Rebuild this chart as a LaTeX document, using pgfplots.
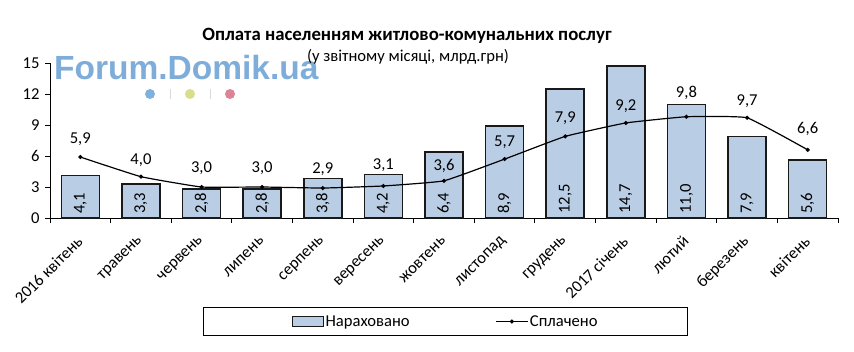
\documentclass[border=0pt]{standalone}
\usepackage{fontspec}
\setmainfont{Carlito}
\newfontfamily\wmfont{Liberation Sans}
\usepackage{pgfplots}
\pgfplotsset{compat=1.18}
\definecolor{barblue}{HTML}{B9CDE5}
\definecolor{wmblue}{HTML}{7EADDA}
\definecolor{dotblue}{HTML}{7FB1DD}
\definecolor{dotgreen}{HTML}{D8DE8C}
\definecolor{dotpink}{HTML}{DE8298}
\newcommand{\bodyfont}{\fontsize{16.6bp}{19bp}\selectfont}

\pgfplotsset{
  barlegend/.style={legend image code/.code={\draw[##1, line width=1bp] (0bp,-5bp) rectangle (31bp,5bp);}},
  linelegend/.style={legend image code/.code={\draw[##1, mark repeat=2, mark phase=2] plot coordinates {(0bp,0bp) (15.5bp,0bp) (31bp,0bp)};}},
}

\pgfplotstableread{
x y lbl
0 4.1 4,1
1 3.3 3,3
2 2.8 2,8
3 2.8 2,8
4 3.8 3,8
5 4.2 4,2
6 6.4 6,4
7 8.9 8,9
8 12.5 12,5
9 14.7 14,7
10 11.0 11,0
11 7.9 7,9
12 5.6 5,6
}\nar

\pgfplotstableread{
x y lbl dy
0 5.9 5,9 11
1 4.0 4,0 9
2 3.0 3,0 12
3 3.0 3,0 12
4 2.9 2,9 12
5 3.1 3,1 14
6 3.6 3,6 8
7 5.7 5,7 10
8 7.9 7,9 11
9 9.2 9,2 10
10 9.8 9,8 17
11 9.7 9,7 10
12 6.6 6,6 14
}\spl

\pgfplotstableread{
x zero lbl
0 0 4,1
1 0 3,3
2 0 2,8
3 0 2,8
4 0 3,8
5 0 4,2
6 0 6,4
7 0 8,9
8 0 12,5
9 0 14,7
10 0 11,0
11 0 7,9
12 0 5,6
}\narlbl

\begin{document}
\begin{tikzpicture}
\useasboundingbox (0,0) rectangle (854bp,-352bp);
% watermark
\node[anchor=west, font=\wmfont\bfseries\fontsize{33.5bp}{38bp}\selectfont, text=wmblue, inner sep=0] at (54bp,-68bp) {Forum.Domik.ua};
\fill[dotblue] (150bp,-94bp) circle (5bp);
\fill[dotgreen] (190bp,-94bp) circle (5bp);
\fill[dotpink] (230bp,-94bp) circle (5bp);
\draw[black!15, line width=0.8bp] (170bp,-89bp) -- (170bp,-99bp);
\draw[black!15, line width=0.8bp] (210bp,-89bp) -- (210bp,-99bp);
% titles
\node[font=\bfseries\fontsize{18.8bp}{21bp}\selectfont] at (407bp,-36bp) {Оплата населенням житлово-комунальних послуг};
\node[font=\bodyfont] at (408bp,-57bp) {(у звітному місяці, млрд.грн)};
\begin{axis}[
  at={(50bp,-218bp)}, anchor=south west,
  scale only axis, width=788bp, height=155bp,
  xmin=-0.5, xmax=12.5, ymin=0, ymax=15,
  axis lines*=left,
  axis line style={black, line width=1bp},
  tick align=outside,
  major tick length=5bp,
  every tick/.style={black, line width=1bp},
  ytick={0,3,...,15},
  xtick={-0.5,0.5,...,12.5},
  xticklabels={},
  extra x ticks={0,1,...,12},
  extra x tick labels={2016 квітень,травень,червень,липень,серпень,вересень,жовтень,листопад,грудень,2017 січень,лютий,березень,квітень},
  extra x tick style={major tick length=0pt, tick label style={xshift=-0.5bp, yshift=-20.5bp, rotate=45, anchor=east, inner sep=0pt}},
  font=\bodyfont,
  tick label style={font=\bodyfont, black},
  yticklabel style={xshift=-2bp},
  /pgf/number format/assume math mode=true,
  clip=false,
  legend columns=2,
  legend style={at={(0.502,-0.668)}, anchor=center, draw=black, line width=0.8bp,
    inner xsep=88bp, inner ysep=6bp, font=\bodyfont,
    /tikz/every even column/.append style={column sep=84bp}},
  legend cell align=left,
]
\addplot[ybar, bar width=38bp, fill=barblue, draw=black!90, line width=1.5bp, barlegend]
  table[x=x, y=y] {\nar};
\addlegendentry{Нараховано}
\addplot[black, line width=1.2bp, smooth, tension=0.2, mark=*, mark size=1.4bp,
  nodes near coords, point meta=explicit symbolic,
  visualization depends on={\thisrow{dy}\as\dy},
  every node near coord/.style={anchor=south, inner sep=0pt, yshift=\dy bp, font=\bodyfont},
  linelegend]
  table[x=x, y=y, meta=lbl] {\spl};
\addlegendentry{Сплачено}
\addplot[draw=none, mark=none, forget plot, nodes near coords, point meta=explicit symbolic,
  every node near coord/.style={rotate=90, anchor=west, inner sep=0pt, xshift=4bp, font=\bodyfont}]
  table[x=x, y=zero, meta=lbl] {\narlbl};
\end{axis}
\end{tikzpicture}
\end{document}
